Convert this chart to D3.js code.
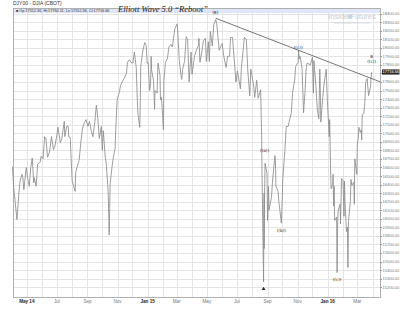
<!DOCTYPE html>
<html><head><meta charset="utf-8">
<script src="https://cdn.jsdelivr.net/npm/d3@7"></script>
<style>body{margin:0;background:#fff}svg{display:block}</style>
</head><body>
<script>
const dates = ["2014-04-02","2014-04-04","2014-04-07","2014-04-11","2014-04-15","2014-04-17","2014-04-21","2014-04-23","2014-04-25","2014-04-29","2014-04-30","2014-05-02","2014-05-06","2014-05-09","2014-05-12","2014-05-15","2014-05-16","2014-05-20","2014-05-23","2014-05-28","2014-05-30","2014-06-03","2014-06-06","2014-06-09","2014-06-12","2014-06-16","2014-06-20","2014-06-24","2014-06-27","2014-07-01","2014-07-03","2014-07-08","2014-07-11","2014-07-16","2014-07-17","2014-07-21","2014-07-24","2014-07-25","2014-07-28","2014-07-31","2014-08-01","2014-08-07","2014-08-08","2014-08-13","2014-08-15","2014-08-19","2014-08-22","2014-08-26","2014-08-29","2014-09-02","2014-09-05","2014-09-09","2014-09-12","2014-09-16","2014-09-19","2014-09-22","2014-09-25","2014-09-29","2014-10-01","2014-10-03","2014-10-07","2014-10-09","2014-10-13","2014-10-15","2014-10-16","2014-10-17","2014-10-21","2014-10-23","2014-10-27","2014-10-28","2014-10-31","2014-11-05","2014-11-07","2014-11-12","2014-11-14","2014-11-19","2014-11-21","2014-11-25","2014-11-28","2014-12-02","2014-12-05","2014-12-09","2014-12-10","2014-12-12","2014-12-16","2014-12-17","2014-12-18","2014-12-22","2014-12-26","2014-12-29","2014-12-31",
"2015-01-02","2015-01-05","2015-01-07","2015-01-08","2015-01-09","2015-01-13","2015-01-15","2015-01-16","2015-01-20","2015-01-22","2015-01-26","2015-01-27","2015-01-29","2015-02-02","2015-02-03","2015-02-06","2015-02-10","2015-02-13","2015-02-17","2015-02-20","2015-02-25","2015-03-02","2015-03-04","2015-03-06","2015-03-10","2015-03-11","2015-03-13","2015-03-17","2015-03-20","2015-03-23","2015-03-26","2015-03-30","2015-04-01","2015-04-06","2015-04-09","2015-04-14","2015-04-15","2015-04-17","2015-04-21","2015-04-24","2015-04-28","2015-04-30","2015-05-04","2015-05-06","2015-05-08","2015-05-12","2015-05-15","2015-05-19","2015-05-21","2015-05-26","2015-05-29","2015-06-01","2015-06-04","2015-06-09","2015-06-12","2015-06-16","2015-06-18","2015-06-22","2015-06-25","2015-06-29","2015-07-02","2015-07-08","2015-07-10","2015-07-16","2015-07-20","2015-07-23","2015-07-27","2015-07-29","2015-07-31","2015-08-04","2015-08-06","2015-08-10","2015-08-13","2015-08-18","2015-08-20","2015-08-21","2015-08-24","2015-08-25","2015-08-25","2015-08-26","2015-08-27","2015-08-31","2015-09-01","2015-09-03","2015-09-04","2015-09-09","2015-09-11","2015-09-16","2015-09-17","2015-09-18","2015-09-22","2015-09-24","2015-09-28","2015-09-29","2015-10-01","2015-10-02","2015-10-06","2015-10-09","2015-10-13","2015-10-15","2015-10-19","2015-10-22","2015-10-26","2015-10-28","2015-11-02","2015-11-03","2015-11-04","2015-11-06","2015-11-10","2015-11-13","2015-11-16","2015-11-18","2015-11-20","2015-11-24","2015-11-27","2015-12-01","2015-12-03","2015-12-04","2015-12-08","2015-12-11","2015-12-14","2015-12-16","2015-12-17","2015-12-18","2015-12-22","2015-12-24","2015-12-29","2015-12-31",
"2016-01-04","2016-01-05","2016-01-07","2016-01-08","2016-01-11","2016-01-12","2016-01-13","2016-01-14","2016-01-15","2016-01-19","2016-01-20","2016-01-21","2016-01-22","2016-01-26","2016-01-27","2016-01-29","2016-02-01","2016-02-03","2016-02-04","2016-02-05","2016-02-08","2016-02-10","2016-02-11","2016-02-12","2016-02-16","2016-02-17","2016-02-19","2016-02-23","2016-02-24","2016-02-25","2016-02-29","2016-03-01","2016-03-03","2016-03-04","2016-03-07","2016-03-09","2016-03-10","2016-03-11","2016-03-14","2016-03-16","2016-03-18","2016-03-21","2016-03-22","2016-03-23","2016-03-24","2016-03-28","2016-03-29","2016-03-30"];
const values = [16610,16390,16220,15990,16300,16430,16520,16480,16340,16560,16600,16500,16380,16600,16710,16420,16480,16380,16640,16660,16730,16700,16960,16930,16720,16780,16960,16810,16850,16980,17070,16890,16940,17140,16960,17080,17080,16960,16950,16560,16440,16320,16540,16650,16680,16920,17060,17130,17160,17080,17140,17020,16960,17140,17330,17170,16940,17080,16800,17030,16720,16650,16320,15810,16120,16420,16620,16700,16820,17000,17390,17490,17560,17620,17640,17700,17830,17860,17830,17820,17950,17760,17550,17240,17070,17360,17780,17960,18060,18030,17820,
17830,17500,17580,17900,17740,17610,17280,17500,17470,17820,17680,17390,17420,17040,17620,17830,17870,18010,18040,18010,18220,18280,18080,17860,17660,17630,17750,17850,18130,18100,17600,17950,17690,17900,17960,18030,18110,17830,17960,18080,18110,17840,18070,17840,18190,18020,18270,18330,18280,17970,18010,18050,17910,17770,17900,17900,18120,18120,17900,17600,17730,17520,17760,18120,18100,17730,17440,17750,17690,17550,17420,17620,17410,17510,16990,16460,15260,16300,15650,16290,16650,16530,15980,16380,16100,16250,16430,16740,16680,16380,16330,16200,16000,15950,16270,16470,16790,17080,17080,17140,17230,17490,17620,17780,17830,17970,17870,17900,17760,17240,17480,17730,17820,17810,17800,17890,17470,17850,17560,17270,17170,17750,17500,17130,17420,17550,17750,17420,
16960,17160,16510,16350,16400,16520,16150,16380,15980,16020,15370,15880,16090,16170,15940,16470,16450,16030,16440,16200,15850,15900,15430,15970,16200,16460,16390,16430,16170,16700,16520,16870,16940,17070,17010,17040,16920,17220,17230,17330,17600,17640,17560,17500,17440,17560,17650,17716.66];

const yTicks = d3.range(15200, 18401, 100);
const monthLabels = ["May 14","Jul","Sep","Nov","Jan 15","Mar","May","Jul","Sep","Nov","Jan 16","Mar"];
const monthLabelDates = ["2014-05-01","2014-07-01","2014-09-01","2014-11-01","2015-01-01","2015-03-01","2015-05-01","2015-07-01","2015-09-01","2015-11-01","2016-01-01","2016-03-01"];
const trendDates = ["2015-05-19","2016-04-17"];
const trendValues = [18345,17600];
const waveLabels = ["(B)","((c))","((a))","((b))","((c))","B","((c))"];
const waveDates = ["2015-05-18","2015-11-02","2015-08-26","2015-09-29","2016-01-20","2016-03-30","2016-03-30"];
const waveValues = [18400,17990,16780,15850,15270,17880,17820];
const lastBar = {open:17552.36, high:17760.11, low:17552.36, close:17716.66};

const W=400,H=313;
const L=13,R=380,T=8,B=297;
const parse = d3.timeParse("%Y-%m-%d");
const svg = d3.select("body").append("svg").attr("width",W).attr("height",H);
const x = d3.scaleTime().domain([parse("2014-04-03"),parse("2016-04-16")]).range([L,R]);
const y = d3.scaleLinear().domain([15085,18465]).range([B,T]);

// grid
const months = d3.timeMonth.range(parse("2014-05-01"), parse("2016-04-16"));
svg.append("g").selectAll("line").data(months).join("line")
  .attr("x1",d=>Math.round(x(d))+0.5).attr("x2",d=>Math.round(x(d))+0.5).attr("y1",T).attr("y2",B)
  .attr("stroke","#e4e4e4").attr("stroke-width",1);
svg.append("g").selectAll("line").data(yTicks).join("line")
  .attr("x1",L).attr("x2",R).attr("y1",d=>Math.round(y(d))+0.5).attr("y2",d=>Math.round(y(d))+0.5)
  .attr("stroke","#e4e4e4").attr("stroke-width",1);

// frame
svg.append("rect").attr("x",L+0.5).attr("y",T+0.5).attr("width",R-L).attr("height",B-T)
  .attr("fill","none").attr("stroke","#b0b0b0");

// header
svg.append("text").attr("x",L).attr("y",5).attr("font-family","Liberation Sans, Arial").attr("font-size",5).attr("fill","#333").text("DJY00 - DJIA (CBOT)");
svg.append("rect").attr("x",L+1).attr("y",T+1).attr("width",R-L-1).attr("height",4).attr("fill","#dfe6f7");
svg.append("text").attr("x",L+3).attr("y",T+4.3).attr("font-family","Liberation Sans, Arial").attr("font-size",3.8).attr("fill","#333")
  .text(`■ Op:${lastBar.open.toFixed(2)}, Hi:${lastBar.high.toFixed(2)}, Lo:${lastBar.low.toFixed(2)}, Cl:${lastBar.close.toFixed(2)}`);
svg.append("text").attr("x",118).attr("y",12).attr("font-family","Liberation Serif, Times New Roman").attr("font-style","italic").attr("font-size",8.5).attr("fill","#222")
  .text("Elliott Wave 5.0 \u201cReboot\u201d");

// watermark
svg.append("text").attr("x",352).attr("y",19).attr("text-anchor","middle").attr("font-family","Liberation Sans, Arial").attr("font-size",7.5).attr("fill","#c9ced6").text("Inside    Futures");
svg.append("circle").attr("cx",350).attr("cy",16.5).attr("r",2.6).attr("fill","#c9d6e6");
svg.append("text").attr("x",352).attr("y",24).attr("text-anchor","middle").attr("font-family","Liberation Sans, Arial").attr("font-size",3.5).attr("fill","#d0d4da").text("www.insidefutures.com");

// price line
const pts = dates.map((d,i)=>[parse(d),values[i]]);
svg.append("path").datum(pts).attr("fill","none").attr("stroke","#8c8c8c").attr("stroke-width",0.85)
  .attr("d", d3.line().x(d=>x(d[0])).y(d=>y(d[1])));

// trendline
svg.append("path").datum(trendDates.map((d,i)=>[parse(d),trendValues[i]]))
  .attr("fill","none").attr("stroke","#555").attr("stroke-width",0.8)
  .attr("d", d3.line().x(d=>x(d[0])).y(d=>y(d[1])));

// wave labels
svg.append("g").selectAll("text").data(waveLabels).join("text")
  .attr("x",(d,i)=>x(parse(waveDates[i]))).attr("y",(d,i)=>y(waveValues[i]))
  .attr("text-anchor","middle").attr("font-family","DejaVu Sans, Arial").attr("font-size",4.2).attr("fill","#222").text(d=>d);
// triangle at A
svg.append("path").attr("d",d3.symbol().type(d3.symbolTriangle).size(6)())
  .attr("transform",`translate(${x(parse("2015-08-24"))},${y(15180)})`).attr("fill","#222");

// y axis
const ya = svg.append("g");
ya.selectAll("line").data(yTicks).join("line").attr("x1",R).attr("x2",R+2)
  .attr("y1",d=>Math.round(y(d))+0.5).attr("y2",d=>Math.round(y(d))+0.5).attr("stroke","#999");
ya.selectAll("text").data(yTicks.filter(v=>v!==17700)).join("text").attr("x",R+2.5).attr("y",d=>y(d)+1.5)
  .attr("font-family","Liberation Sans, Arial").attr("font-size",4).attr("fill","#777").text(d=>d3.format(".2f")(d));
ya.append("rect").attr("x",R+2).attr("y",y(lastBar.close)-2.6).attr("width",17.5).attr("height",5.2).attr("fill","#2b2b2b");
ya.append("text").attr("x",R+2.5).attr("y",y(lastBar.close)+1.5).attr("font-family","Liberation Sans, Arial").attr("font-size",4).attr("fill","#fff").text(lastBar.close.toFixed(2));

// x axis labels
svg.append("g").selectAll("text").data(monthLabels).join("text")
  .attr("x",(d,i)=>x(parse(monthLabelDates[i]))).attr("y",303)
  .attr("text-anchor","middle").attr("font-family","Liberation Sans, Arial").attr("font-size",4.6)
  .attr("font-weight",d=>/\d/.test(d)?"bold":"normal").attr("fill",d=>/\d/.test(d)?"#222":"#777").text(d=>d);
</script>
</body></html>
